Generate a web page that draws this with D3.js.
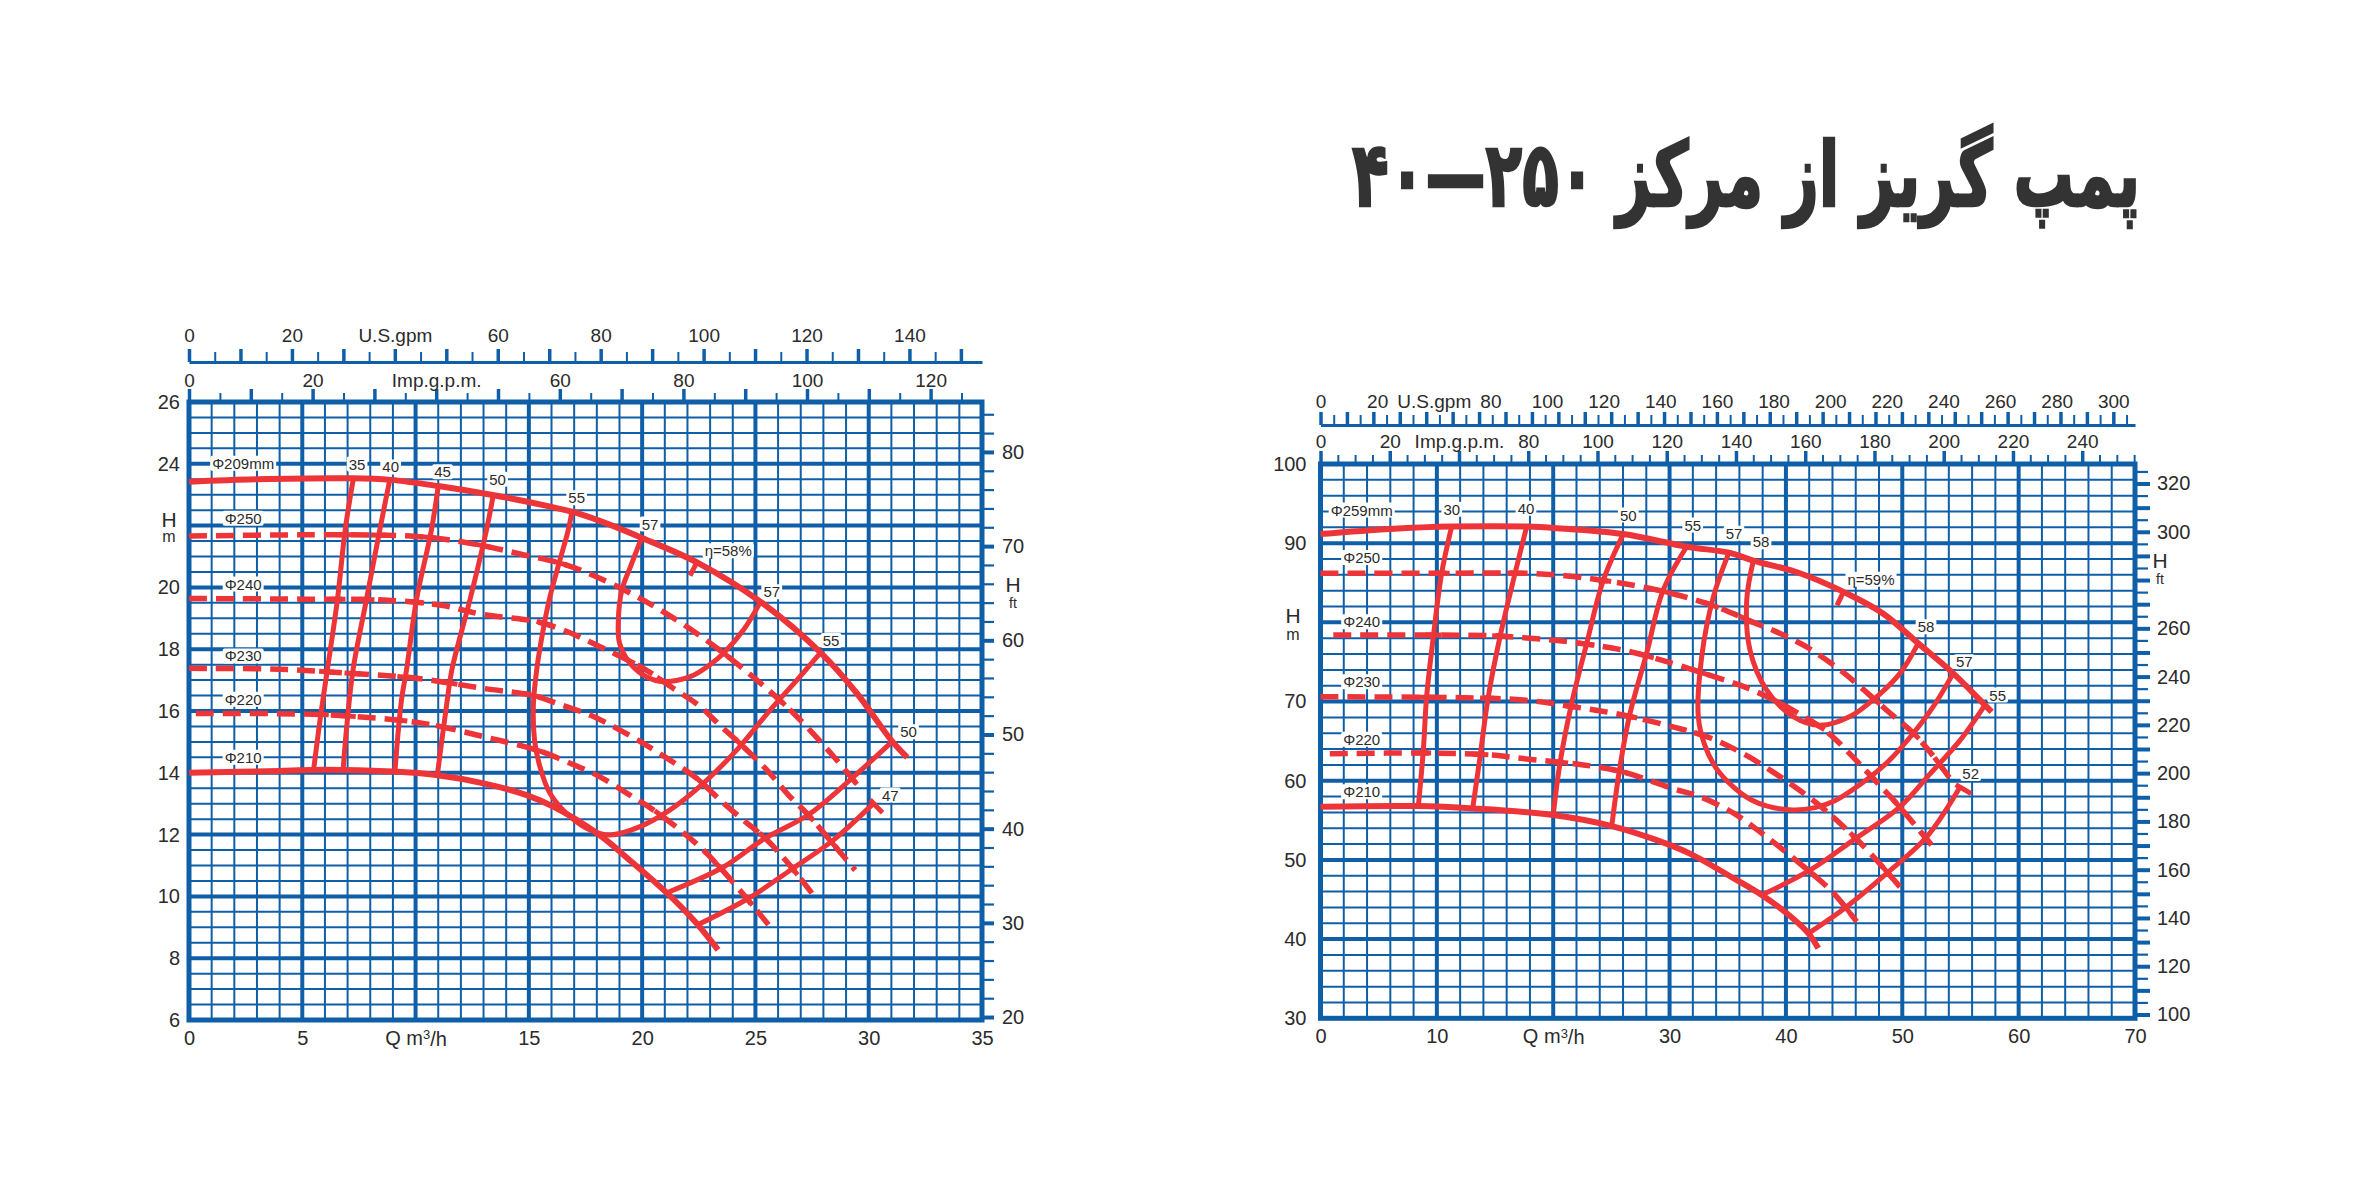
<!DOCTYPE html>
<html><head><meta charset="utf-8">
<script src="https://cdn.jsdelivr.net/npm/d3@7"></script>
<style>html,body{margin:0;padding:0;background:#fff}svg{display:block}</style>
</head><body>
<svg id="c" width="2363" height="1182"></svg>
<script>
// ================= DATA =================
const titleText = "پمپ گریز از مرکز ۲۵۰—۴۰";

// ---- Left chart (Q m3/h, H m) ----
const L_qTicks = [0,5,10,15,20,25,30,35];
const L_qLabels = ["0","5","Q m³/h","15","20","25","30","35"];
const L_hTicks = [6,8,10,12,14,16,18,20,24,26];
const L_ftLabels = [20,30,40,50,60,70,80];
const L_usLabels = ["0","20","U.S.gpm","60","80","100","120","140"];
const L_impLabels = ["0","20","Imp.g.p.m.","60","80","100","120"];

const L_top = [[0,23.42],[3,23.5],[7.2,23.53],[8.9,23.48],[11.0,23.28],[13.4,22.99],[15.9,22.62],[16.9,22.45],[18.1,22.16],[20.0,21.6],[22.5,20.78],[25.2,19.55],[27.9,17.87],[29.5,16.55],[31.0,15.05],[31.7,14.5]];
const L_bottom = [[0,14.0],[4,14.06],[6,14.1],[9.0,14.04],[10.9,13.93],[13.0,13.66],[14.9,13.28],[16.1,12.9],[18.0,12.05],[19.6,11.08],[21.08,10.12],[22.4,9.13],[23.35,8.27]];
const L_e35 = [[7.25,23.5],[6.9,21.9],[6.55,19.6],[6.1,17.3],[5.8,15.8],[5.5,14.1]];
const L_e40 = [[8.86,23.48],[8.42,21.86],[7.83,19.6],[7.24,17.33],[6.95,15.4],[6.8,14.08]];
const L_e45 = [[11.0,23.28],[10.7,21.86],[10.04,19.6],[9.6,17.33],[9.38,16.36],[9.09,14.04]];
const L_e50 = [[13.43,22.99],[13.13,21.86],[12.4,19.6],[11.6,17.33],[11.4,16.36],[10.96,13.93]];
const L_e55 = [[16.9,22.45],[16.74,21.86],[16.3,20.7],[15.9,19.6],[15.6,18.5],[15.34,17.3],[15.2,16.2],[15.25,15.06],[15.45,14.3],[15.93,13.34],[16.82,12.58],[17.7,12.15],[18.58,11.99],[19.91,12.26],[21.23,12.8],[22.7,13.66],[24.18,14.74],[25.65,16.03],[26.83,17.0],[27.86,17.87]];
const L_e57 = [[19.95,21.55],[19.5,20.7],[19.1,19.9],[18.95,18.94],[19.0,18.2],[19.47,17.54],[20.2,17.1],[20.94,16.95],[22.12,17.11],[23.0,17.5],[23.59,17.87],[24.47,18.62],[25.2,19.5]];
const L_e50r = [[31.02,15.0],[29.33,13.87],[27.35,12.65],[25.36,11.85],[23.59,10.95],[21.1,10.12]];
const L_e47 = [[30.21,13.01],[28.45,11.83],[26.6,10.88],[24.7,9.94],[22.45,9.08]];
const L_d250 = [[0,21.66],[5,21.7],[10,21.65],[12.4,21.43],[14.8,21.05],[16.4,20.78],[17.75,20.42],[20.05,19.59],[22.41,18.51],[24.62,17.27],[26.68,15.93],[28.52,14.47],[29.62,13.5]];
const L_d240 = [[0,19.64],[5,19.62],[8.6,19.59],[11.07,19.43],[13.0,19.12],[15.3,18.9],[16.52,18.62],[17.8,18.2],[20.05,17.38],[21.38,16.73],[22.48,16.19],[23.5,15.49],[24.55,14.79],[25.57,14.04],[26.46,13.28],[27.34,12.63],[28.22,11.88],[29.4,10.85]];
const L_d230 = [[0,17.38],[4,17.35],[7.1,17.22],[10.04,17.06],[13.0,16.73],[15.2,16.5],[16.23,16.25],[17.7,15.87],[18.88,15.44],[20.05,14.95],[21.23,14.41],[22.41,13.82],[23.44,13.12],[24.47,12.47],[25.5,11.83],[26.39,11.12],[27.56,10.04]];
const L_d220 = [[0.3,15.92],[5.1,15.9],[7.39,15.82],[10.34,15.6],[13.0,15.17],[15.49,14.7],[16.82,14.31],[18.14,13.87],[19.32,13.34],[20.49,12.8],[21.67,12.15],[22.7,11.5],[23.6,10.8],[24.6,9.95],[25.65,9.02]];
const L_etaQ = 22.45;
const L_labels = [["Φ209mm",2.39,24.02],["35",7.42,23.99],["40",8.9,23.9],["45",11.19,23.74],["50",13.62,23.5],["55",17.11,22.9],["57",20.35,22.05],["η=58%",23.8,21.19],["57",25.72,19.86],["55",28.34,18.28],["50",31.76,15.33],["47",30.95,13.28],["Φ250",2.39,22.24],["Φ240",2.39,20.11],["Φ230",2.39,17.78],["Φ220",2.39,16.38],["Φ210",2.39,14.5]];

// ---- Right chart (Q m3/h, H m) ----
const R_qTicks = [0,10,20,30,40,50,60,70];
const R_qLabels = ["0","10","Q m³/h","30","40","50","60","70"];
const R_hTicks = [30,40,50,60,70,90,100];
const R_ftLabels = [100,120,140,160,180,200,220,240,260,300,320];
const R_usLabels = ["0","20","U.S.gpm","80","100","120","140","160","180","200","220","240","260","280","300"];
const R_impLabels = ["0","20","Imp.g.p.m.","80","100","120","140","160","180","200","220","240"];

const R_top = [[0,91.15],[6,91.8],[11.27,92.1],[17.72,92.1],[20.3,91.9],[26.02,91.15],[31.47,89.55],[35.1,88.8],[37.2,87.8],[41.2,86.2],[45.22,83.66],[48.37,81.1],[51.37,77.35],[54.38,73.56],[57.1,69.56],[57.68,68.7]];
const R_bottom = [[0,56.72],[8.27,56.8],[13.13,56.5],[20.0,55.67],[25.03,54.28],[28.9,52.5],[31.75,50.8],[35.6,47.6],[37.92,45.57],[40.07,43.26],[41.93,40.73],[42.78,38.84]];
const R_e30 = [[11.27,92.1],[10.41,86.2],[9.7,78.2],[9.12,70.6],[8.84,63.9],[8.41,56.8]];
const R_e40 = [[17.72,92.1],[16.72,86.2],[15.43,78.2],[14.42,70.6],[13.71,63.0],[13.08,56.5]];
const R_e50 = [[26.02,91.15],[24.3,85.3],[22.88,77.35],[21.59,69.8],[20.58,62.2],[20.0,55.67]];
const R_e55 = [[31.47,89.55],[29.46,84.1],[28.03,76.1],[26.6,68.5],[25.74,61.8],[25.03,54.28]];
const R_e57 = [[35.1,88.8],[33.76,83.2],[32.76,75.65],[32.47,68.1],[33.0,64.6],[34.0,61.6],[35.5,59.2],[37.0,57.6],[38.4,56.8],[40.6,56.3],[42.5,56.6],[44.1,57.4],[46.9,60.1],[48.7,62.3],[50.95,66.0],[52.66,69.35],[54.38,73.56]];
const R_e58 = [[37.2,87.8],[36.63,82.8],[36.91,76.5],[38.35,71.45],[40.63,68.1],[42.93,67.0],[45.5,68.1],[47.8,70.6],[49.8,73.56],[51.37,77.35]];
const R_e55r = [[57.1,69.56],[54.96,65.1],[52.4,60.9],[49.8,56.7],[45.79,52.5],[42.07,48.7],[37.92,45.57]];
const R_e52 = [[54.96,59.2],[52.1,52.9],[48.66,48.3],[45.22,44.1],[41.93,40.73]];
const R_d250 = [[0,86.2],[10,86.2],[17.7,86.2],[21,85.9],[24.3,85.3],[28.9,84.1],[33.19,82.4],[35.48,81.1],[37.2,80.0],[39.2,78.8],[41.78,76.9],[44.65,74.0],[46.37,71.9],[48.66,68.9],[50.95,66.0],[52.4,63.6],[54.1,60.3]];
const R_d240 = [[1.1,78.4],[10,78.4],[15,78.3],[18,78.0],[21,77.6],[26,76.5],[30.3,74.8],[33.5,73.3],[36,72.1],[38.4,70.6],[41.2,68.4],[43.5,66.2],[45.5,63.4],[47.3,60.6],[49.1,57.8],[51.1,54.4],[53,51.0]];
const R_d230 = [[0,70.6],[11.7,70.5],[17.4,70.2],[21.7,69.35],[26,68.3],[30.3,66.8],[33.5,65.4],[36.6,63.2],[39.2,60.8],[41.64,58.3],[43.6,56.0],[45.6,53.3],[47.65,50.2],[49.8,46.6]];
const R_d220 = [[0.8,63.4],[9.4,63.5],[14.6,63.25],[17.4,62.8],[22.6,62.0],[26,61.1],[30.3,59.0],[32.6,58.0],[35.5,55.9],[37.9,53.4],[41,49.8],[43.96,46.0],[46.08,42.2]];
const R_etaQ = 45.0;
const R_labels = [["Φ259mm",3.54,94.18],["30",11.28,94.27],["40",17.66,94.4],["50",26.45,93.55],["55",31.99,92.29],["57",35.54,91.24],["58",37.86,90.18],["η=59%",47.31,85.43],["58",52.04,79.44],["57",55.33,75.03],["55",58.2,70.82],["52",55.88,60.93],["Φ250",3.54,88.2],["Φ240",3.54,80.08],["Φ230",3.54,72.5],["Φ220",3.54,65.23],["Φ210",3.54,58.6]];

// ================= DRAWING =================
const BLUE = "#0f5fa8", RED = "#ed3439", TXT = "#2b2b2b";
const FONT = "'Liberation Sans', Arial, sans-serif";
const US_PER_M3H = 4.4029, IMP_PER_M3H = 3.6662, M_PER_FT = 0.3048;
const svg = d3.select("#c");
svg.append("rect").attr("width",2363).attr("height",1182).attr("fill","#fff");

// title: measured then horizontally condensed to the reference width
const titleG = svg.append("g");
const title = titleG.append("text").attr("x",0).attr("y",0).attr("text-anchor","middle")
  .style("direction","rtl").style("font-family","'DejaVu Sans'").style("font-weight","bold")
  .style("font-size","90px").attr("fill","#333").attr("stroke","#333").attr("stroke-width",2.5)
  .text(titleText);
{ const w = title.node().getBBox().width; const sx = 788 / w;
  titleG.attr("transform",`translate(1746,206) scale(${sx},1)`); }

const steps=(a,b,s)=>d3.range(0,Math.floor((b-a)/s+1e-6)+1).map(i=>+(a+i*s).toFixed(6));
const isMul=(v,s)=>Math.abs(v/s-Math.round(v/s))<1e-6;

function styleText(sel,size){ sel.attr("fill",TXT).style("font-size",size+"px").style("font-family",FONT); }

function drawChart(c){
  const g = svg.append("g");
  const x = d3.scaleLinear().domain(c.qDom).range(c.xRange);
  const y = d3.scaleLinear().domain(c.hDom).range(c.yRange);
  const [X0,X1]=c.xRange, [Yb,Yt]=c.yRange;

  // grid
  const qAll = steps(c.qDom[0],c.qDom[1],c.qMinor), hAll = steps(c.hDom[0],c.hDom[1],c.hMinor);
  const grid = g.append("g");
  [[qAll.filter(v=>!isMul(v,c.qMajor)),2],[qAll.filter(v=>isMul(v,c.qMajor)&&v>c.qDom[0]&&v<c.qDom[1]),4]].forEach(([vals,w])=>{
    grid.append("g").selectAll("line").data(vals).join("line")
      .attr("x1",d=>x(d)).attr("x2",d=>x(d)).attr("y1",Yb).attr("y2",Yt).attr("stroke",BLUE).attr("stroke-width",w);
  });
  [[hAll.filter(v=>!isMul(v,c.hMajor)),2],[hAll.filter(v=>isMul(v,c.hMajor)&&v>c.hDom[0]&&v<c.hDom[1]),4]].forEach(([vals,w])=>{
    grid.append("g").selectAll("line").data(vals).join("line")
      .attr("y1",d=>y(d)).attr("y2",d=>y(d)).attr("x1",X0).attr("x2",X1).attr("stroke",BLUE).attr("stroke-width",w);
  });
  grid.append("rect").attr("x",X0).attr("y",Yt).attr("width",X1-X0).attr("height",Yb-Yt)
    .attr("fill","none").attr("stroke",BLUE).attr("stroke-width",5);

  // ---- top: US gpm axis ----
  const usMax = c.qDom[1]*US_PER_M3H;
  const us = d3.scaleLinear().domain([0,usMax]).range([X0,X1]);
  const usVals = steps(0,usMax,5);
  const a1 = g.append("g").attr("transform",`translate(0,${c.usY})`)
    .call(d3.axisTop(us).tickValues(usVals.filter(v=>!isMul(v,10))).tickSize(10).tickSizeOuter(0).tickFormat(""));
  a1.select(".domain").attr("stroke",BLUE).attr("stroke-width",3);
  a1.selectAll(".tick line").attr("stroke",BLUE).attr("stroke-width",2);
  const a2 = g.append("g").attr("transform",`translate(0,${c.usY})`)
    .call(d3.axisTop(us).tickValues(usVals.filter(v=>isMul(v,10))).tickSize(13).tickFormat(""));
  a2.select(".domain").remove();
  a2.selectAll(".tick line").attr("stroke",BLUE).attr("stroke-width",3.5);
  const usSlot = d3.scaleLinear().domain([0,c.usLabels.length-1]).range([us(0),us(c.usLabelMax)]);
  const a3 = g.append("g").attr("transform",`translate(0,${c.usLabelY})`)
    .call(d3.axisTop(usSlot).tickValues(d3.range(c.usLabels.length)).tickFormat(i=>c.usLabels[i]).tickSize(0).tickPadding(0));
  a3.select(".domain").remove();
  styleText(a3.selectAll("text"),19);

  // ---- top: Imp gpm axis (on plot top border) ----
  const impReal = d3.scaleLinear().domain([0,c.qDom[1]*IMP_PER_M3H]).range([X0,X1]);
  const nI = c.impLabels.length;
  const impNom = d3.scaleLinear().domain([0,20*(nI-1)]).range([X0,impReal(c.impLabelMax)]);
  const impVals = steps(0,impNom.invert(X1),5);
  const b1 = g.append("g").attr("transform",`translate(0,${Yt})`)
    .call(d3.axisTop(impNom).tickValues(impVals.filter(v=>!isMul(v,c.impMajor))).tickSize(9).tickFormat(""));
  b1.select(".domain").remove();
  b1.selectAll(".tick line").attr("stroke",BLUE).attr("stroke-width",2);
  const b2 = g.append("g").attr("transform",`translate(0,${Yt})`)
    .call(d3.axisTop(impNom).tickValues(impVals.filter(v=>isMul(v,c.impMajor))).tickSize(13).tickFormat(""));
  b2.select(".domain").remove();
  b2.selectAll(".tick line").attr("stroke",BLUE).attr("stroke-width",3.5);
  const b3 = g.append("g").attr("transform",`translate(0,${c.impLabelY})`)
    .call(d3.axisTop(impNom).tickValues(d3.range(nI).map(i=>i*20)).tickFormat((d,i)=>c.impLabels[i]).tickSize(0).tickPadding(0));
  b3.select(".domain").remove();
  styleText(b3.selectAll("text"),19);

  // ---- left H axis labels ----
  const l1 = g.append("g").attr("transform",`translate(${X0},0)`)
    .call(d3.axisLeft(y).tickValues(c.hTicks).tickSize(0).tickPadding(c.hPad));
  l1.select(".domain").remove();
  styleText(l1.selectAll("text"),20);

  // ---- bottom Q labels ----
  const bt = g.append("g").attr("transform",`translate(0,${Yb})`)
    .call(d3.axisBottom(x).tickValues(c.qTicks).tickSize(0).tickPadding(11).tickFormat((d,i)=>c.qLabels[i]));
  bt.select(".domain").remove();
  styleText(bt.selectAll("text"),20);
  bt.selectAll("text").each(function(){
    const t = d3.select(this), s = t.text();
    if(s.indexOf("³")>=0){
      const [pre,post] = s.split("³");
      t.text(null);
      t.append("tspan").text(pre);
      t.append("tspan").text("3").style("font-size","13px").attr("dy","-0.45em");
      t.append("tspan").text(post).attr("dy","0.32em");
    }
  });

  // ---- right ft axis ----
  const ft = d3.scaleLinear().domain([c.hDom[0]/M_PER_FT,c.hDom[1]/M_PER_FT]).range([Yb,Yt]);
  const ftVals = steps(c.ftStart,c.ftEnd,c.ftMinor);
  const r1 = g.append("g").attr("transform",`translate(${X1},0)`)
    .call(d3.axisRight(ft).tickValues(ftVals.filter(v=>!isMul(v,c.ftMajor))).tickSize(c.ftTickMinor).tickFormat(""));
  r1.select(".domain").remove();
  r1.selectAll(".tick line").attr("stroke",BLUE).attr("stroke-width",2.2);
  const r2 = g.append("g").attr("transform",`translate(${X1},0)`)
    .call(d3.axisRight(ft).tickValues(ftVals.filter(v=>isMul(v,c.ftMajor))).tickSize(c.ftTickMajor).tickFormat(""));
  r2.select(".domain").remove();
  r2.selectAll(".tick line").attr("stroke",BLUE).attr("stroke-width",4);
  const r3 = g.append("g").attr("transform",`translate(${X1},0)`)
    .call(d3.axisRight(ft).tickValues(c.ftLabels).tickSize(0).tickPadding(c.ftPad));
  r3.select(".domain").remove();
  styleText(r3.selectAll("text"),20);

  // axis titles
  [[c.hmPos[0],c.hmPos[1],"H",21],[c.hmPos[0],c.hmPos[2],"m",16],[c.hfPos[0],c.hfPos[1],"H",21],[c.hfPos[0],c.hfPos[2],"ft",14]]
    .forEach(([px,py,s,fs])=>{ styleText(g.append("text").attr("x",px).attr("y",py).attr("text-anchor","middle").text(s),fs); });

  // ---- curves ----
  const line = d3.line().x(d=>x(d[0])).y(d=>y(d[1])).curve(d3.curveCatmullRom.alpha(0.5));
  const curves = g.append("g").attr("fill","none").attr("stroke",RED);
  const dashedNodes = c.dashed.map(d=>curves.append("path").attr("d",line(d)).attr("stroke-width",5.5).attr("stroke-dasharray","18 9").node());
  const effNodes = c.eff.map(d=>curves.append("path").attr("d",line(d)).attr("stroke-width",5).attr("stroke-linejoin","round").node());
  const hqNodes = c.hq.map(d=>curves.append("path").attr("d",line(d)).attr("stroke-width",6).attr("stroke-linejoin","round").node());

  const sample=(p,n)=>{const L=p.getTotalLength();return d3.range(n+1).map(i=>{const q=p.getPointAtLength(L*i/n);return [q.x,q.y];});};
  const inter=(p1,p2,p3,p4)=>{
    const d=(p2[0]-p1[0])*(p4[1]-p3[1])-(p2[1]-p1[1])*(p4[0]-p3[0]);
    if(Math.abs(d)<1e-9) return null;
    const t=((p3[0]-p1[0])*(p4[1]-p3[1])-(p3[1]-p1[1])*(p4[0]-p3[0]))/d;
    const u=((p3[0]-p1[0])*(p2[1]-p1[1])-(p3[1]-p1[1])*(p2[0]-p1[0]))/d;
    return (t>=0&&t<=1&&u>=0&&u<=1)?[p1[0]+t*(p2[0]-p1[0]),p1[1]+t*(p2[1]-p1[1])]:null;
  };
  const ticks=[];
  const effS = effNodes.map(n=>sample(n,240));
  dashedNodes.forEach(dn=>{
    const ds = sample(dn,240);
    effS.forEach(es=>{
      for(let i=0;i<ds.length-1;i++) for(let j=0;j<es.length-1;j++){
        const P=inter(ds[i],ds[i+1],es[j],es[j+1]);
        if(P){ const dx=ds[i+1][0]-ds[i][0], dy=ds[i+1][1]-ds[i][1], L=Math.hypot(dx,dy);
          ticks.push([P[0]-dx/L*8,P[1]-dy/L*8,P[0]+dx/L*8,P[1]+dy/L*8]); }
      }
    });
  });
  // eta tick on top curve
  const ts = sample(hqNodes[0],400);
  let k=0; ts.forEach((p,i)=>{ if(Math.abs(p[0]-x(c.etaQ))<Math.abs(ts[k][0]-x(c.etaQ))) k=i; });
  {const a=ts[Math.max(k-2,0)], b=ts[Math.min(k+2,ts.length-1)]; let nx=-(b[1]-a[1]), ny=(b[0]-a[0]); const L=Math.hypot(nx,ny); nx/=L; ny/=L; if(ny<0){nx=-nx;ny=-ny;}
   ticks.push([ts[k][0],ts[k][1],ts[k][0]+nx*15,ts[k][1]+ny*15]);}
  // end tick on flagged efficiency line start
  c.endTick.forEach(idx=>{
    const s=effS[idx]; const a=s[0], b=s[3]; let nx=-(b[1]-a[1]), ny=(b[0]-a[0]); const L=Math.hypot(nx,ny); nx/=L; ny/=L; if(ny<0){nx=-nx;ny=-ny;}
    ticks.push([a[0]-nx*5,a[1]-ny*5,a[0]+nx*13,a[1]+ny*13]);
  });
  curves.append("g").selectAll("line").data(ticks).join("line")
    .attr("x1",d=>d[0]).attr("y1",d=>d[1]).attr("x2",d=>d[2]).attr("y2",d=>d[3]).attr("stroke-width",5);

  // ---- labels ----
  const lg = g.append("g");
  c.labels.forEach(([s,q,h])=>{
    const t = lg.append("text").attr("x",x(q)).attr("y",y(h)).attr("text-anchor","middle").attr("dominant-baseline","central").text(s);
    styleText(t,15);
    const bb = t.node().getBBox();
    lg.insert("rect",()=>t.node()).attr("x",bb.x-2).attr("y",bb.y+1).attr("width",bb.width+4).attr("height",bb.height-2).attr("fill","#fff").attr("rx",2);
  });
}

drawChart({
  qDom:[0,35], xRange:[189,982], hDom:[6,26], yRange:[1020,402],
  qMinor:1, qMajor:5, hMinor:0.5, hMajor:2,
  hTicks:L_hTicks, hPad:9, qTicks:L_qTicks, qLabels:L_qLabels,
  usY:362, usLabelY:342, usLabels:L_usLabels, usLabelMax:140,
  impLabelY:387, impLabels:L_impLabels, impLabelMax:120, impMajor:10,
  ftStart:20, ftEnd:84, ftMinor:2, ftMajor:10, ftLabels:L_ftLabels, ftTickMinor:12, ftTickMajor:12, ftPad:20,
  hmPos:[169,527,542], hfPos:[1013,592,608],
  dashed:[L_d250,L_d240,L_d230,L_d220],
  eff:[L_e35,L_e40,L_e45,L_e50,L_e55,L_e57,L_e50r,L_e47],
  hq:[L_top,L_bottom], etaQ:L_etaQ, endTick:[7], labels:L_labels
});
drawChart({
  qDom:[0,70], xRange:[1320.5,2135], hDom:[30,100], yRange:[1018.3,464],
  qMinor:2, qMajor:10, hMinor:2, hMajor:10,
  hTicks:R_hTicks, hPad:14, qTicks:R_qTicks, qLabels:R_qLabels,
  usY:425, usLabelY:408, usLabels:R_usLabels, usLabelMax:300,
  impLabelY:448, impLabels:R_impLabels, impLabelMax:240, impMajor:20,
  ftStart:100, ftEnd:325, ftMinor:5, ftMajor:10, ftLabels:R_ftLabels, ftTickMinor:13, ftTickMajor:15, ftPad:22,
  hmPos:[1293,623,640], hfPos:[2160,568,584],
  dashed:[R_d250,R_d240,R_d230,R_d220],
  eff:[R_e30,R_e40,R_e50,R_e55,R_e57,R_e58,R_e55r,R_e52],
  hq:[R_top,R_bottom], etaQ:R_etaQ, endTick:[7], labels:R_labels
});
</script>
</body></html>
